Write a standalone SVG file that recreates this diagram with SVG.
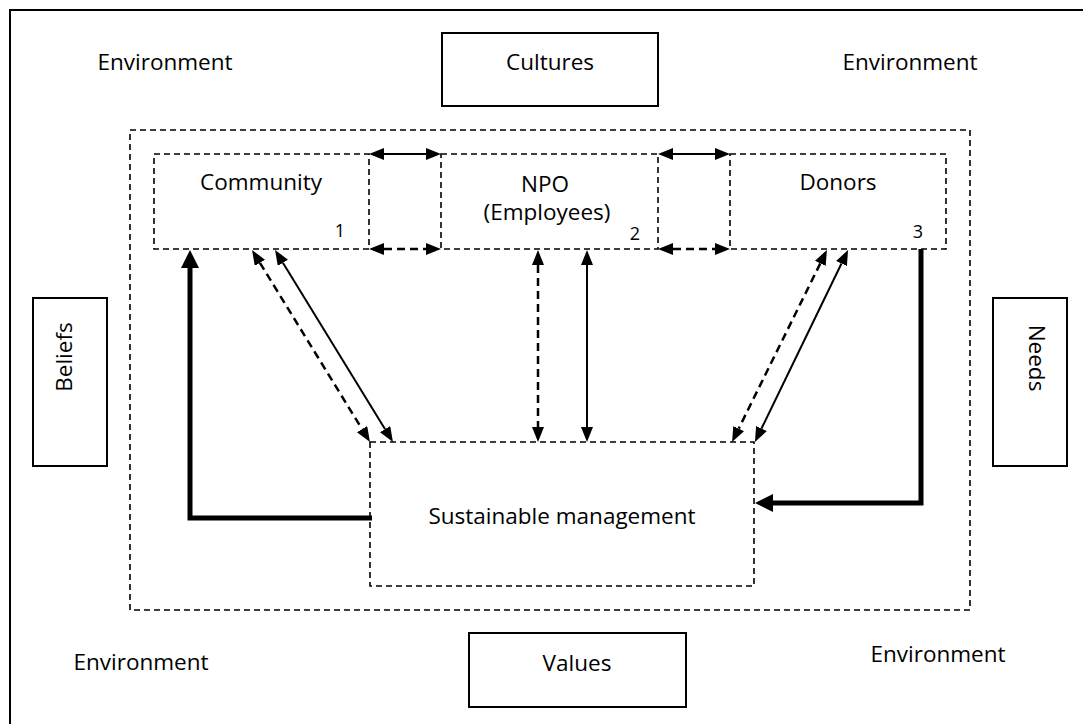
<svg xmlns="http://www.w3.org/2000/svg" width="1083" height="724" viewBox="0 0 1083 724">
<style>
text{font-family:"Open Sans","Noto Sans","Liberation Sans",sans-serif;font-size:22.5px;fill:#000;text-anchor:middle}
.num{font-size:18px}
.solidbox{fill:#fff;stroke:#000;stroke-width:2}
.dashbox{fill:none;stroke:#000;stroke-width:1.6;stroke-dasharray:6 4}
.thin{fill:none;stroke:#000;stroke-width:2}
.dash{fill:none;stroke:#000;stroke-width:2.5;stroke-dasharray:8 5}
.thick{fill:none;stroke:#000;stroke-width:5;stroke-linejoin:miter}
</style>
<defs>
<marker id="ah" markerUnits="userSpaceOnUse" markerWidth="15" markerHeight="12" refX="0" refY="6" orient="auto-start-reverse"><path d="M0,0 L15,6 L0,12 z" fill="#000"/></marker>
<marker id="ahT" markerUnits="userSpaceOnUse" markerWidth="18" markerHeight="18" refX="0" refY="9" orient="auto"><path d="M0,0 L18,9 L0,18 z" fill="#000"/></marker>
</defs>
<rect x="0" y="0" width="1083" height="724" fill="#fff"/>
<rect id="frame" x="10" y="10" width="1090" height="730" fill="none" stroke="#000" stroke-width="2"/>
<g id="env-tl"><text x="165" y="70">Environment</text></g>
<g id="cultures"><rect class="solidbox" x="442" y="33" width="216" height="73"/><text x="550" y="70">Cultures</text></g>
<g id="env-tr"><text x="910" y="70">Environment</text></g>
<g id="env-bl"><text x="141" y="670">Environment</text></g>
<g id="values"><rect class="solidbox" x="469" y="633" width="217" height="74"/><text x="577" y="671">Values</text></g>
<g id="env-br"><text x="938" y="662">Environment</text></g>
<g id="beliefs"><rect class="solidbox" x="33" y="298" width="74" height="168"/><text transform="translate(72,357) rotate(-90)">Beliefs</text></g>
<g id="needs"><rect class="solidbox" x="993" y="298" width="74" height="168"/><text transform="translate(1029,358) rotate(90)">Needs</text></g>
<g id="system"><rect class="dashbox" x="130" y="130" width="840" height="480"/></g>
<g id="community"><rect class="dashbox" x="154" y="154" width="215" height="95"/><text x="261" y="190">Community</text><text class="num" x="340" y="237">1</text></g>
<g id="npo"><rect class="dashbox" x="441" y="154" width="217" height="95"/><text x="545" y="192">NPO</text><text x="547" y="220">(Employees)</text><text class="num" x="635" y="240">2</text></g>
<g id="donors"><rect class="dashbox" x="730" y="154" width="216" height="95"/><text x="838" y="190">Donors</text><text class="num" x="918" y="238">3</text></g>
<g id="sustainable"><rect class="dashbox" x="370" y="442" width="384" height="144"/><text x="562" y="524">Sustainable management</text></g>
<g id="connectors">
<line class="thin" x1="384" y1="154" x2="426" y2="154" marker-start="url(#ah)" marker-end="url(#ah)"/>
<line class="thin" x1="673" y1="154" x2="715" y2="154" marker-start="url(#ah)" marker-end="url(#ah)"/>
<line class="dash" x1="384" y1="249" x2="426" y2="249" marker-start="url(#ah)" marker-end="url(#ah)"/>
<line class="dash" x1="673" y1="249" x2="715" y2="249" marker-start="url(#ah)" marker-end="url(#ah)"/>
<line class="dash" x1="259.9" y1="262.8" x2="362.1" y2="429.2" marker-start="url(#ah)" marker-end="url(#ah)"/>
<line class="thin" x1="282.9" y1="262.8" x2="385.1" y2="429.2" marker-start="url(#ah)" marker-end="url(#ah)"/>
<line class="dash" x1="538" y1="265" x2="538" y2="427" marker-start="url(#ah)" marker-end="url(#ah)"/>
<line class="thin" x1="587" y1="265" x2="587" y2="427" marker-start="url(#ah)" marker-end="url(#ah)"/>
<line class="dash" x1="820.3" y1="263.4" x2="738.7" y2="428.6" marker-start="url(#ah)" marker-end="url(#ah)"/>
<line class="thin" x1="841.5" y1="263.5" x2="761.5" y2="428.5" marker-start="url(#ah)" marker-end="url(#ah)"/>
<path class="thick" d="M372,518 H190 V268" marker-end="url(#ahT)"/>
<path class="thick" d="M921,249 V503 H773" marker-end="url(#ahT)"/>
</g>
</svg>
